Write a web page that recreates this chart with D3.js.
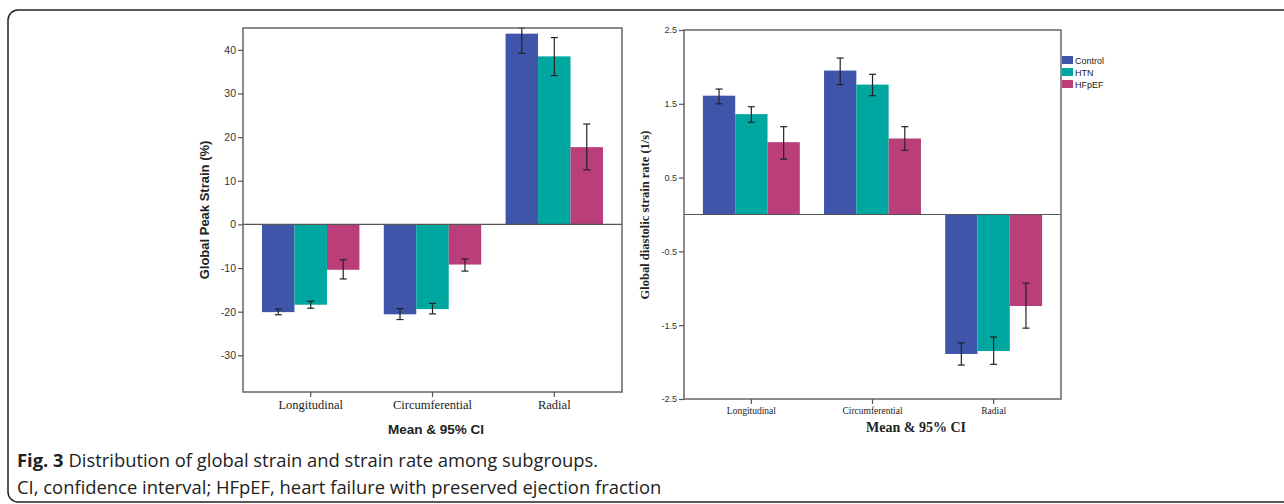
<!DOCTYPE html>
<html>
<head>
<meta charset="utf-8">
<script src="https://cdn.jsdelivr.net/npm/d3@7"></script>
<style>
  body { margin: 0; background: #fff; }
  svg { display: block; }
</style>
</head>
<body>
<script>
// categories and groups
const regions = ["Longitudinal", "Circumferential", "Radial"];
const groups = ["Control", "HTN", "HFpEF"];
const groupColors = ["#3F55A9", "#00A7A0", "#BA3E7A"];

// Global peak strain (%) - mean, lower CI, upper CI per region, per group
const strainMean = [[-20.1, -18.4, -10.4], [-20.6, -19.4, -9.2], [43.7, 38.5, 17.7]];
const strainLow  = [[-20.7, -19.2, -12.5], [-21.8, -20.5, -10.7], [39.2, 34.1, 12.5]];
const strainHigh = [[-19.4, -17.6, -8.1],  [-19.3, -18.1, -7.9],  [45.0, 42.8, 23.0]];
const strainTicks = [40, 30, 20, 10, 0, -10, -20, -30];

// Global diastolic strain rate (1/s)
const rateMean = [[1.61, 1.36, 0.98], [1.95, 1.76, 1.03], [-1.89, -1.85, -1.24]];
const rateLow  = [[1.50, 1.25, 0.75], [1.76, 1.61, 0.87], [-2.04, -2.03, -1.54]];
const rateHigh = [[1.70, 1.46, 1.19], [2.12, 1.90, 1.19], [-1.74, -1.66, -0.93]];
const rateTicks = [2.5, 1.5, 0.5, -0.5, -1.5, -2.5];

const width = 1284, height = 504;

const svg = d3.select("body").append("svg")
    .attr("width", width)
    .attr("height", height);

// outer rounded frame
svg.append("rect")
    .attr("x", 8).attr("y", 10)
    .attr("width", 1290).attr("height", 492)
    .attr("rx", 10)
    .attr("fill", "none")
    .attr("stroke", "#222")
    .attr("stroke-width", 1.5);

function barChart(opts) {
    const { x0, x1, y0, y1, domain, mean, low, high, ticks, tickFmt } = opts;

    const x = d3.scaleBand().domain(regions).range([x0, x1])
        .paddingInner(0.2).paddingOuter(0.156);
    const xg = d3.scaleBand().domain(groups).range([0, x.bandwidth()]);
    const y = d3.scaleLinear().domain(domain).range([y1, y0]);

    const g = svg.append("g");

    const rows = [];
    regions.forEach((r, i) => groups.forEach((gr, j) => {
        rows.push({ region: r, group: gr, j, v: mean[i][j], lo: low[i][j], hi: high[i][j] });
    }));

    g.selectAll("rect.bar")
        .data(rows)
        .join("rect")
        .attr("class", "bar")
        .attr("x", d => x(d.region) + xg(d.group))
        .attr("width", xg.bandwidth())
        .attr("y", d => y(Math.max(0, d.v)))
        .attr("height", d => Math.abs(y(d.v) - y(0)))
        .attr("fill", d => groupColors[d.j]);

    // zero line
    g.append("line")
        .attr("x1", x0).attr("x2", x1)
        .attr("y1", y(0)).attr("y2", y(0))
        .attr("stroke", "#555").attr("stroke-width", 1.2);

    // error bars
    const eb = g.selectAll("g.err").data(rows).join("g").attr("class", "err")
        .attr("transform", d => `translate(${x(d.region) + xg(d.group) + xg.bandwidth() / 2},0)`);
    eb.append("line").attr("y1", d => y(d.lo)).attr("y2", d => y(d.hi))
        .attr("stroke", "#222").attr("stroke-width", 1.2);
    eb.append("line").attr("x1", -3.5).attr("x2", 3.5)
        .attr("y1", d => y(d.lo)).attr("y2", d => y(d.lo))
        .attr("stroke", "#222").attr("stroke-width", 1.2);
    eb.append("line").attr("x1", -3.5).attr("x2", 3.5)
        .attr("y1", d => y(d.hi)).attr("y2", d => y(d.hi))
        .attr("stroke", "#222").attr("stroke-width", 1.2);

    // frame
    g.append("rect")
        .attr("x", x0).attr("y", y0)
        .attr("width", x1 - x0).attr("height", y1 - y0)
        .attr("fill", "none")
        .attr("stroke", "#666").attr("stroke-width", 1.5);

    // y axis
    const yAxis = g.append("g")
        .attr("transform", `translate(${x0},0)`)
        .call(d3.axisLeft(y).tickValues(ticks).tickSize(5).tickPadding(2).tickFormat(tickFmt));
    yAxis.select(".domain").remove();
    yAxis.selectAll(".tick line").attr("stroke", "#555").attr("stroke-width", 1.2);
    yAxis.selectAll(".tick text")
        .attr("fill", "#333")
        .style("font-family", "Liberation Sans, Arial, sans-serif")
        .style("font-size", opts.tickSize + "px");

    // x axis
    const xAxis = g.append("g")
        .attr("transform", `translate(0,${y1})`)
        .call(d3.axisBottom(x).tickSize(5).tickPadding(opts.catPad));
    xAxis.select(".domain").remove();
    xAxis.selectAll(".tick line").attr("stroke", "#555").attr("stroke-width", 1.2);
    xAxis.selectAll(".tick text")
        .attr("fill", "#222")
        .style("font-family", "Liberation Serif, Times New Roman, serif")
        .style("font-size", opts.catSize + "px");

    return { x, y, g };
}

// left chart: global peak strain
const left = barChart({
    x0: 243, x1: 622, y0: 28, y1: 392,
    domain: [-38.4, 45],
    mean: strainMean, low: strainLow, high: strainHigh,
    ticks: strainTicks, tickFmt: d => String(d),
    tickSize: 10.5, catSize: 12.5, catPad: 3
});

left.g.append("text")
    .attr("transform", "translate(209,210) rotate(-90)")
    .attr("text-anchor", "middle")
    .style("font-family", "Liberation Sans, Arial, sans-serif")
    .style("font-weight", "bold")
    .style("font-size", "13px")
    .attr("fill", "#222")
    .text("Global Peak Strain (%)");

left.g.append("text")
    .attr("x", 436).attr("y", 434)
    .attr("text-anchor", "middle")
    .style("font-family", "Liberation Sans, Arial, sans-serif")
    .style("font-weight", "bold")
    .style("font-size", "13.5px")
    .attr("fill", "#222")
    .text("Mean & 95% CI");

// right chart: global diastolic strain rate
const right = barChart({
    x0: 684, x1: 1061, y0: 30, y1: 399,
    domain: [-2.5, 2.5],
    mean: rateMean, low: rateLow, high: rateHigh,
    ticks: rateTicks, tickFmt: d => d.toFixed(1),
    tickSize: 9, catSize: 9.5, catPad: 3
});

right.g.append("text")
    .attr("transform", "translate(649,215) rotate(-90)")
    .attr("text-anchor", "middle")
    .style("font-family", "Liberation Serif, Times New Roman, serif")
    .style("font-weight", "bold")
    .style("font-size", "12.5px")
    .attr("fill", "#222")
    .text("Global diastolic strain rate (1/s)");

right.g.append("text")
    .attr("x", 916).attr("y", 432)
    .attr("text-anchor", "middle")
    .style("font-family", "Liberation Serif, Times New Roman, serif")
    .style("font-weight", "bold")
    .style("font-size", "14px")
    .attr("fill", "#222")
    .text("Mean & 95% CI");

// legend
const legend = svg.append("g").attr("transform", "translate(1062,56)");
const li = legend.selectAll("g").data(groups).join("g")
    .attr("transform", (d, i) => `translate(0,${i * 12})`);
li.append("rect").attr("width", 11).attr("height", 8)
    .attr("fill", (d, i) => groupColors[i]);
li.append("text").attr("x", 13).attr("y", 7.5)
    .style("font-family", "Liberation Sans, Arial, sans-serif")
    .style("font-size", "9px")
    .attr("fill", "#222")
    .text(d => d);

// caption
const cap = svg.append("g")
    .style("font-family", "Open Sans, Noto Sans, sans-serif")
    .style("font-size", "18.4px")
    .attr("fill", "#222");
const line1 = cap.append("text").attr("x", 17).attr("y", 467);
line1.append("tspan").style("font-weight", "bold").text("Fig. 3");
line1.append("tspan").text(" Distribution of global strain and strain rate among subgroups.");
cap.append("text").attr("x", 17).attr("y", 494)
    .text("CI, confidence interval; HFpEF, heart failure with preserved ejection fraction");
</script>
</body>
</html>
